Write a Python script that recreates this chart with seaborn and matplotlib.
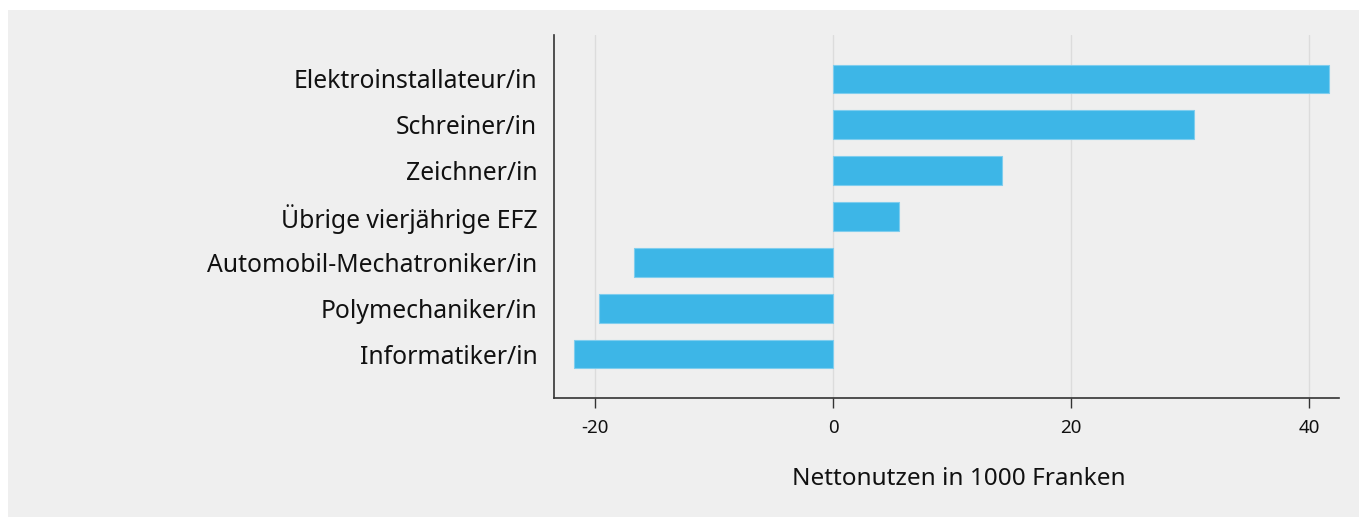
import matplotlib
matplotlib.use("Agg")
import matplotlib.pyplot as plt
import seaborn as sns
import pandas as pd
from matplotlib.patches import Rectangle

categories = ["Elektroinstallateur/in", "Schreiner/in", "Zeichner/in",
              "Übrige vierjährige EFZ", "Automobil-Mechatroniker/in",
              "Polymechaniker/in", "Informatiker/in"]
values = [41.7, 30.3, 14.2, 5.5, -16.7, -19.7, -21.8]
xticks = [-20, 0, 20, 40]
xlabel = "Nettonutzen in 1000 Franken"

df = pd.DataFrame({"Beruf": categories, "Wert": values})

sns.set_theme(style="white")
plt.rcParams['font.family'] = ['Noto Sans', 'DejaVu Sans']

W, H = 1359, 517
fig = plt.figure(figsize=(W / 100, H / 100), dpi=100, facecolor="white")
bg = "#efefef"
fig.patches.append(Rectangle((8 / W, 0), 1 - 8 / W, 1 - 10 / H,
                             transform=fig.transFigure, facecolor=bg,
                             edgecolor="none", zorder=-10))

ax = fig.add_axes([554 / W, 1 - 398 / H, (1339 - 554) / W, (398 - 35) / H])
ax.set_facecolor(bg)

sns.barplot(data=df, x="Wert", y="Beruf", order=categories, orient="h",
            color="#3db6e7", saturation=1, width=0.63, ax=ax,
            edgecolor="#7fcdee", linewidth=0.8, zorder=3)

ax.set_xlim(-23.45, 42.5)
ax.set_ylim(6.96, -0.96)
ax.set_xticks(xticks)
ax.set_xticklabels([str(t) for t in xticks])
ax.xaxis.grid(True, color="#dcdcdc", linewidth=1, zorder=0)
ax.set_axisbelow(True)

for s in ["top", "right"]:
    ax.spines[s].set_visible(False)
for s in ["left", "bottom"]:
    ax.spines[s].set_color("#333333")
    ax.spines[s].set_linewidth(1.2)

ax.tick_params(axis="x", direction="out", length=7, width=1, color="#333333",
               labelsize=13.5, pad=8, bottom=True)
ax.tick_params(axis="y", length=0, labelsize=17.8, pad=12)
ax.set_ylabel("")
ax.set_xlabel(xlabel, fontsize=17.5, labelpad=22, color="#111111")
ax.xaxis.label.set_x(0.516)
for lab in ax.get_yticklabels() + ax.get_xticklabels():
    lab.set_color("#111111")

fig.savefig("out.png", dpi=100, facecolor="white")
